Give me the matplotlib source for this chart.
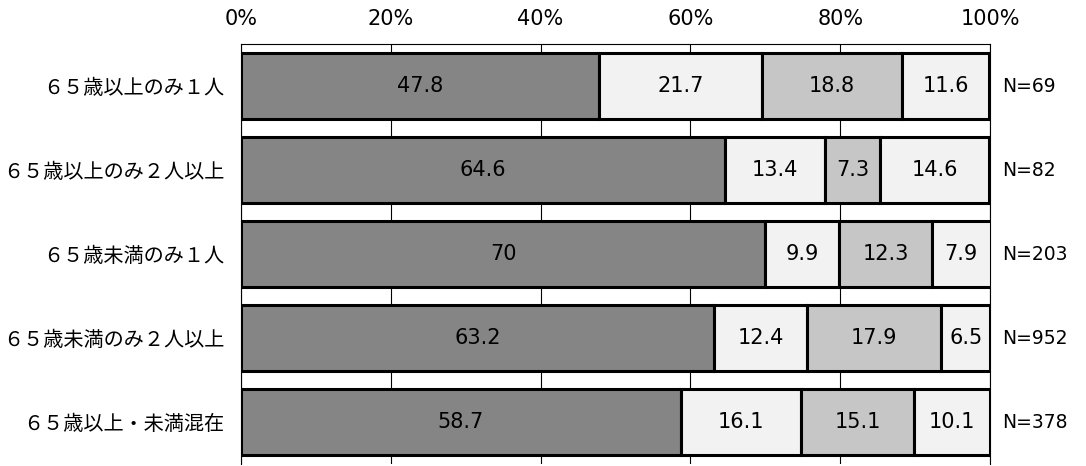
import numpy as np
import matplotlib.pyplot as plt

plt.rcParams['font.family'] = ['Noto Sans CJK JP', 'DejaVu Sans']

# データ
categories = ['６５歳以上のみ１人', '６５歳以上のみ２人以上', '６５歳未満のみ１人',
              '６５歳未満のみ２人以上', '６５歳以上・未満混在']
seg1 = [47.8, 64.6, 70.0, 63.2, 58.7]
seg2 = [21.7, 13.4, 9.9, 12.4, 16.1]
seg3 = [18.8, 7.3, 12.3, 17.9, 15.1]
seg4 = [11.6, 14.6, 7.9, 6.5, 10.1]
n_labels = ['N=69', 'N=82', 'N=203', 'N=952', 'N=378']
xticks = [0, 20, 40, 60, 80, 100]

series = [seg1, seg2, seg3, seg4]
colores = ['#858585', '#f2f2f2', '#c6c6c6', '#f2f2f2']
fuente_num = ['DejaVu Sans']

fig = plt.figure(figsize=(10.86, 4.66), dpi=100)
ax = fig.add_axes([241 / 1086, 2 / 466, 749 / 1086, 420 / 466])

y = np.arange(len(categories))
izq = np.zeros(len(categories))
for vals, col in zip(series, colores):
    vals = np.array(vals)
    ax.barh(y, vals, left=izq, height=0.78, color=col,
            edgecolor='black', linewidth=2.2, zorder=3)
    for xi, yi, v in zip(izq + vals / 2, y, vals):
        ax.text(xi, yi, f'{v:g}', ha='center', va='center', fontsize=15,
                family=fuente_num, zorder=4)
    izq = izq + vals

for yi, n in zip(y, n_labels):
    ax.text(101.6, yi, n, ha='left', va='center', fontsize=13.5,
            family=fuente_num)

ax.set_xlim(0, 100)
ax.set_ylim(len(categories) - 0.5, -0.5)
ax.set_yticks(y)
ax.set_yticklabels(categories, fontsize=14.5)
ax.set_xticks(xticks)
ax.set_xticklabels([f'{t}%' for t in xticks], fontsize=15, family=fuente_num)
ax.xaxis.tick_top()
ax.tick_params(axis='x', length=0, pad=11)
ax.tick_params(axis='y', length=0, pad=12)
ax.grid(axis='x', color='black', linewidth=0.8, zorder=0)
for s in ax.spines.values():
    s.set_linewidth(0.8)
ax.spines['bottom'].set_visible(False)

fig.savefig('out.png', dpi=100)
